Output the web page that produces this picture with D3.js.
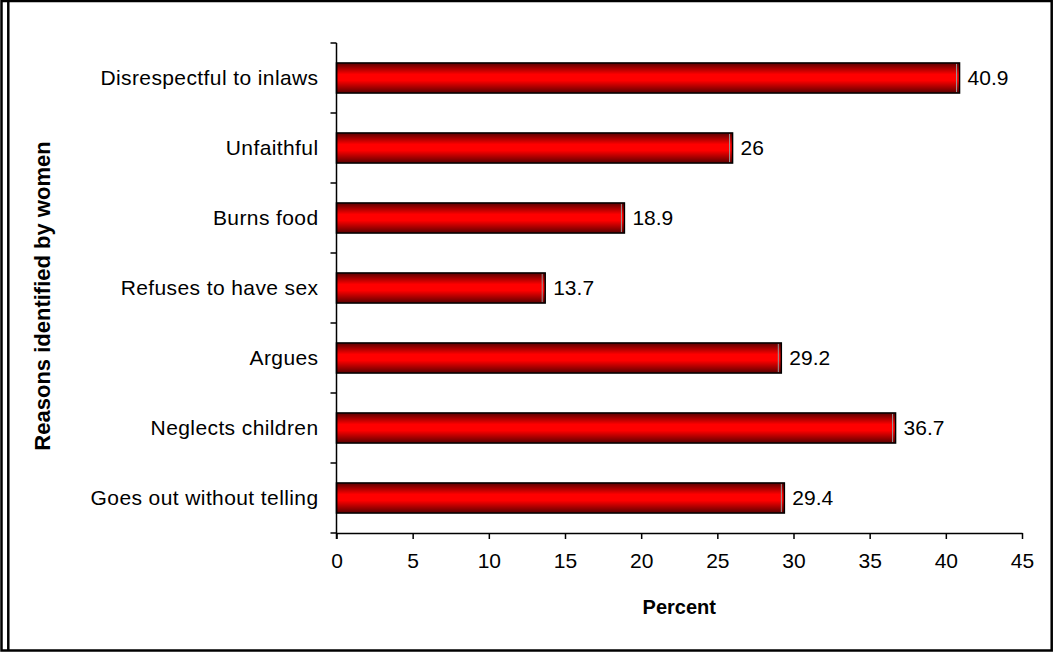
<!DOCTYPE html>
<html>
<head>
<meta charset="utf-8">
<script src="https://cdn.jsdelivr.net/npm/d3@7"></script>
<style>
    body { margin: 0; background: #fff; }
    svg { display: block; font-family: "Liberation Sans", Arial, sans-serif; }
    .axis path, .axis line { stroke: #000; stroke-width: 1.5px; }
    .axis text { font-size: 21px; fill: #000; }
</style>
</head>
<body>
<div id="chart"></div>
<script>
// Chart data, top to bottom
const categories = [
    "Disrespectful to inlaws",
    "Unfaithful",
    "Burns food",
    "Refuses to have sex",
    "Argues",
    "Neglects children",
    "Goes out without telling"
];
const percents = [40.9, 26, 18.9, 13.7, 29.2, 36.7, 29.4];
const xTicks = [0, 5, 10, 15, 20, 25, 30, 35, 40, 45];
const xTitle = "Percent";
const yTitle = "Reasons identified by women";

const W = 1053, H = 652;
const margin = {top: 43, right: 31, bottom: 119, left: 336.5};
const width = W - margin.left - margin.right;
const height = H - margin.top - margin.bottom;

const root = d3.select('#chart')
    .append('svg')
    .attr('width', W)
    .attr('height', H);

// Gradient for the shaded bars
const grad = root.append('defs').append('linearGradient')
    .attr('id', 'barFill')
    .attr('x1', 0).attr('y1', 0).attr('x2', 0).attr('y2', 1);
grad.append('stop').attr('offset', '0%').attr('stop-color', '#5a0000');
grad.append('stop').attr('offset', '38%').attr('stop-color', '#ff0000');
grad.append('stop').attr('offset', '58%').attr('stop-color', '#ff0000');
grad.append('stop').attr('offset', '100%').attr('stop-color', '#5a0000');

// Frame around the chart area (double line on the left)
root.append('rect')
    .attr('x', 1.5).attr('y', 1)
    .attr('width', W - 2.8).attr('height', H - 2.5)
    .attr('fill', 'none')
    .attr('stroke', '#000')
    .attr('stroke-width', 2.5);
root.append('line')
    .attr('x1', 8.3).attr('x2', 8.3)
    .attr('y1', 1).attr('y2', H - 1.5)
    .attr('stroke', '#000')
    .attr('stroke-width', 2.5);

const svg = root.append('g')
    .attr('transform', `translate(${margin.left},${margin.top})`);

// Scales
const xScale = d3.scaleLinear()
    .domain([0, 45])
    .range([0, width]);

const yScale = d3.scaleBand()
    .domain(categories)
    .range([0, height])
    .paddingInner(0.57)
    .paddingOuter(0.285);

// Category boundaries for y tick marks
const yBand = d3.scaleBand()
    .domain(categories)
    .range([0, height]);

// Bars
svg.selectAll('.bar')
    .data(categories)
    .enter().append('rect')
    .attr('class', 'bar')
    .attr('x', 0)
    .attr('y', d => yScale(d))
    .attr('width', (d, i) => xScale(percents[i]))
    .attr('height', yScale.bandwidth())
    .attr('fill', 'url(#barFill)')
    .attr('stroke', '#000')
    .attr('stroke-width', 1.5);

// 3D edge at bar end
svg.selectAll('.edge')
    .data(categories)
    .enter().append('line')
    .attr('class', 'edge')
    .attr('x1', (d, i) => xScale(percents[i]) - 3)
    .attr('x2', (d, i) => xScale(percents[i]) - 3)
    .attr('y1', d => yScale(d) + 1)
    .attr('y2', d => yScale(d) + yScale.bandwidth() - 1)
    .attr('stroke', '#999')
    .attr('stroke-width', 1);

// Value labels
svg.selectAll('.value')
    .data(categories)
    .enter().append('text')
    .attr('class', 'value')
    .attr('x', (d, i) => xScale(percents[i]) + 8)
    .attr('y', d => yScale(d) + yScale.bandwidth() / 2)
    .attr('dy', '0.35em')
    .style('font-size', '21px')
    .text((d, i) => percents[i]);

// X axis
svg.append('g')
    .attr('class', 'axis')
    .attr('transform', `translate(0,${height})`)
    .call(d3.axisBottom(xScale).tickValues(xTicks).tickSize(6).tickPadding(10).tickSizeOuter(0))
    .selectAll('text')
    .attr('dy', '0.9em');

// Y axis: line and boundary ticks
const yAxis = svg.append('g').attr('class', 'axis');
yAxis.append('line')
    .attr('x1', 0).attr('x2', 0)
    .attr('y1', 0).attr('y2', height + 6);
yAxis.selectAll('.ytick')
    .data(categories.concat(['end']))
    .enter().append('line')
    .attr('class', 'ytick')
    .attr('x1', -6).attr('x2', 0)
    .attr('y1', (d, i) => i < categories.length ? yBand(d) : height)
    .attr('y2', (d, i) => i < categories.length ? yBand(d) : height);

// Category labels
yAxis.selectAll('.ylabel')
    .data(categories)
    .enter().append('text')
    .attr('class', 'ylabel')
    .attr('x', -18)
    .attr('y', d => yScale(d) + yScale.bandwidth() / 2)
    .attr('dy', '0.35em')
    .attr('text-anchor', 'end')
    .style('letter-spacing', '0.4px')
    .text(d => d);

// Axis titles
root.append('text')
    .attr('x', margin.left + width / 2)
    .attr('y', 614)
    .attr('text-anchor', 'middle')
    .style('font-size', '20px')
    .style('font-weight', 'bold')
    .text(xTitle);

root.append('text')
    .attr('transform', `translate(50,${margin.top + height / 2 + 8}) rotate(-90)`)
    .attr('text-anchor', 'middle')
    .style('font-size', '22px')
    .style('font-weight', 'bold')
    .text(yTitle);
</script>
</body>
</html>
